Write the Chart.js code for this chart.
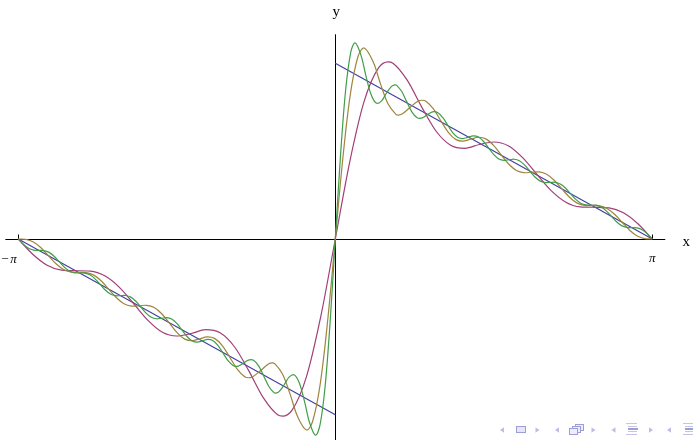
<!DOCTYPE html>
<html>
<head>
<meta charset="utf-8">
<script src="https://cdn.jsdelivr.net/npm/chart.js@4.4.1/dist/chart.umd.min.js"></script>
<style>
  html, body { margin: 0; padding: 0; background: #ffffff; }
  #wrap { position: relative; width: 693px; height: 440px; overflow: hidden; }
  canvas { display: block; }
</style>
</head>
<body>
<div id="wrap"><canvas id="chart" width="693" height="440"></canvas></div>
<script>
// ---- data ----
// exact function (sawtooth), blue
const sawX = [-3.1416, 0, 0, 0, 3.1416];
const sawY = [0, -1.5708, null, 1.5708, 0];

// partial sum, 5 terms (purple)
const purpleX = [-3.1416,-2.9988,-2.8560,-2.7132,-2.5704,-2.4276,-2.2848,-2.1420,-1.9992,-1.8564,-1.7136,-1.5708,-1.4280,-1.2852,-1.1424,-0.9996,-0.8568,-0.7140,-0.5712,-0.5236,-0.4284,-0.2856,-0.1428,
  0,
  0.1428,0.2856,0.4284,0.5236,0.5712,0.7140,0.8568,0.9996,1.1424,1.2852,1.4280,1.5708,1.7136,1.8564,1.9992,2.1420,2.2848,2.4276,2.5704,2.7132,2.8560,2.9988,3.1416];
const purpleY = [0,-0.1358,-0.2340,-0.2784,-0.2835,-0.2869,-0.3292,-0.4301,-0.5765,-0.7269,-0.8335,-0.8667,-0.8446,-0.8107,-0.8383,-0.9629,-1.1787,-1.4176,-1.5707,-1.5828,-1.5289,-1.2293,-0.6877,
  0,
  0.6877,1.2293,1.5289,1.5828,1.5707,1.4176,1.1787,0.9629,0.8383,0.8107,0.8446,0.8667,0.8335,0.7269,0.5765,0.4301,0.3292,0.2869,0.2835,0.2784,0.2340,0.1358,0];

// partial sum, 10 terms (olive)
const oliveX = [-3.1416,-3.0668,-2.9920,-2.9172,-2.8424,-2.7676,-2.6928,-2.6180,-2.5432,-2.4684,-2.3936,-2.3188,-2.2440,-2.1692,-2.0944,-2.0196,-1.9448,-1.8700,-1.7952,-1.7204,-1.6456,-1.5708,-1.4960,-1.4212,-1.3464,-1.2716,-1.1968,-1.1220,-1.0472,-0.9724,-0.8976,-0.8568,-0.8228,-0.7480,-0.6732,-0.6283,-0.5984,-0.5236,-0.4488,-0.3740,-0.2856,-0.2244,-0.1496,-0.0748,
  0,
  0.0748,0.1496,0.2244,0.2856,0.3740,0.4488,0.5236,0.5984,0.6283,0.6732,0.7480,0.8228,0.8568,0.8976,0.9724,1.0472,1.1220,1.1968,1.2716,1.3464,1.4212,1.4960,1.5708,1.6456,1.7204,1.7952,1.8700,1.9448,2.0196,2.0944,2.1692,2.2440,2.3188,2.3936,2.4684,2.5432,2.6180,2.6928,2.7676,2.8424,2.9172,2.9920,3.0668,3.1416];
const oliveY = [0,-0.0037,-0.0272,-0.0786,-0.1499,-0.2215,-0.2731,-0.2962,-0.2985,-0.3005,-0.3230,-0.3754,-0.4499,-0.5251,-0.5785,-0.5996,-0.5967,-0.5927,-0.6124,-0.6679,-0.7506,-0.8350,-0.8927,-0.9091,-0.8934,-0.8751,-0.8880,-0.9510,-1.0544,-1.1624,-1.2305,-1.2400,-1.2330,-1.1822,-1.1230,-1.1070,-1.1166,-1.2055,-1.3837,-1.5855,-1.7070,-1.6285,-1.2963,-0.7216,
  0,
  0.7216,1.2963,1.6285,1.7070,1.5855,1.3837,1.2055,1.1166,1.1070,1.1230,1.1822,1.2330,1.2400,1.2305,1.1624,1.0544,0.9510,0.8880,0.8751,0.8934,0.9091,0.8927,0.8350,0.7506,0.6679,0.6124,0.5927,0.5967,0.5996,0.5785,0.5251,0.4499,0.3754,0.3230,0.3005,0.2985,0.2962,0.2731,0.2215,0.1499,0.0786,0.0272,0.0037,0];

// partial sum, 15 terms (green)
const greenX = [-3.1416,-3.0909,-3.0402,-2.9896,-2.9389,-2.8882,-2.8376,-2.7869,-2.7362,-2.6855,-2.6349,-2.5842,-2.5335,-2.4829,-2.4322,-2.3815,-2.3309,-2.2802,-2.2295,-2.1788,-2.1282,-2.0775,-2.0268,-1.9762,-1.9255,-1.8748,-1.8241,-1.7735,-1.7228,-1.6721,-1.6215,-1.5708,-1.5201,-1.4695,-1.4188,-1.3681,-1.3174,-1.2668,-1.2161,-1.1654,-1.1148,-1.0641,-1.0134,-0.9627,-0.9121,-0.8614,-0.8107,-0.7601,-0.7094,-0.6587,-0.6080,-0.5890,-0.5574,-0.5067,-0.4560,-0.4054,-0.3547,-0.3040,-0.2534,-0.1963,-0.1520,-0.1013,-0.0507,
  0,
  0.0507,0.1013,0.1520,0.1963,0.2534,0.3040,0.3547,0.4054,0.4560,0.5067,0.5574,0.5890,0.6080,0.6587,0.7094,0.7601,0.8107,0.8614,0.9121,0.9627,1.0134,1.0641,1.1148,1.1654,1.2161,1.2668,1.3174,1.3681,1.4188,1.4695,1.5201,1.5708,1.6215,1.6721,1.7228,1.7735,1.8241,1.8748,1.9255,1.9762,2.0268,2.0775,2.1282,2.1788,2.2295,2.2802,2.3309,2.3815,2.4322,2.4829,2.5335,2.5842,2.6349,2.6855,2.7362,2.7869,2.8376,2.8882,2.9389,2.9896,3.0402,3.0909,3.1416];
const greenY = [0,-0.0482,-0.0829,-0.0988,-0.1012,-0.1036,-0.1194,-0.1543,-0.2029,-0.2516,-0.2866,-0.3022,-0.3037,-0.3050,-0.3203,-0.3558,-0.4058,-0.4561,-0.4919,-0.5067,-0.5061,-0.5051,-0.5194,-0.5560,-0.6089,-0.6623,-0.6995,-0.7127,-0.7083,-0.7032,-0.7156,-0.7542,-0.8122,-0.8712,-0.9109,-0.9215,-0.9100,-0.8973,-0.9063,-0.9486,-1.0164,-1.0860,-1.1305,-1.1358,-1.1102,-1.0819,-1.0837,-1.1340,-1.2237,-1.3176,-1.3734,-1.3775,-1.3645,-1.3027,-1.2325,-1.2144,-1.2909,-1.4563,-1.6454,-1.7528,-1.6642,-1.3203,-0.7336,
  0,
  0.7336,1.3203,1.6642,1.7528,1.6454,1.4563,1.2909,1.2144,1.2325,1.3027,1.3645,1.3775,1.3734,1.3176,1.2237,1.1340,1.0837,1.0819,1.1102,1.1358,1.1305,1.0860,1.0164,0.9486,0.9063,0.8973,0.9100,0.9215,0.9109,0.8712,0.8122,0.7542,0.7156,0.7032,0.7083,0.7127,0.6995,0.6623,0.6089,0.5560,0.5194,0.5051,0.5061,0.5067,0.4919,0.4561,0.4058,0.3558,0.3203,0.3050,0.3037,0.3022,0.2866,0.2516,0.2029,0.1543,0.1194,0.1036,0.1012,0.0988,0.0829,0.0482,0];

// axes, ticks, labels
const axisXRange = [-3.27, 3.27];
const axisYRange = [-1.90, 1.829];
const xTickValues = [-3.1416, 3.1416];
const xTickLabels = ['−', 'π'];
const axisLabels = ['x', 'y'];

// ---- chart ----
function pts(xs, ys) { return xs.map((x, i) => ({ x: x, y: ys[i] })); }

const COLORS = {
  blue: 'rgb(66,64,160)',
  purple: 'rgb(160,62,120)',
  olive: 'rgb(158,133,62)',
  green: 'rgb(62,158,72)'
};

function tri(ctx, cx, cy, dir) {
  ctx.beginPath();
  ctx.moveTo(cx - 2 * dir, cy);
  ctx.lineTo(cx + 2 * dir, cy - 2.8);
  ctx.lineTo(cx + 2 * dir, cy + 2.8);
  ctx.closePath();
  ctx.fill();
}

const decor = {
  id: 'decor',
  beforeDatasetsDraw(chart) {
    const ctx = chart.ctx, xs = chart.scales.x, ys = chart.scales.y;
    const y0 = Math.round(ys.getPixelForValue(0)) + 0.5;
    const x0 = Math.round(xs.getPixelForValue(0)) + 0.5;
    ctx.save();
    ctx.strokeStyle = '#000';
    ctx.lineWidth = 1;
    ctx.beginPath();
    ctx.moveTo(xs.getPixelForValue(axisXRange[0]), y0);
    ctx.lineTo(xs.getPixelForValue(axisXRange[1]), y0);
    ctx.moveTo(x0, ys.getPixelForValue(axisYRange[0]));
    ctx.lineTo(x0, ys.getPixelForValue(axisYRange[1]));
    xTickValues.forEach(v => {
      const px = Math.round(xs.getPixelForValue(v)) + 0.5;
      ctx.moveTo(px, y0);
      ctx.lineTo(px, y0 - 5);
    });
    ctx.stroke();
    ctx.restore();
  },
  afterDatasetsDraw(chart) {
    const ctx = chart.ctx, xs = chart.scales.x, ys = chart.scales.y;
    const y0 = ys.getPixelForValue(0);
    const x0 = xs.getPixelForValue(0);
    ctx.save();
    ctx.fillStyle = '#000';
    ctx.textBaseline = 'alphabetic';
    // tick labels
    const pL = xs.getPixelForValue(xTickValues[0]);
    const pR = xs.getPixelForValue(xTickValues[1]);
    ctx.font = '13px "Liberation Serif", "Times New Roman", serif';
    ctx.textAlign = 'left';
    ctx.fillText(xTickLabels[0], pL - 17, y0 + 24);
    ctx.font = 'italic 13px "Liberation Serif", "Times New Roman", serif';
    ctx.fillText(xTickLabels[1], pL - 8, y0 + 24);
    ctx.textAlign = 'center';
    ctx.fillText(xTickLabels[1], pR, y0 + 23);
    // axis labels
    ctx.font = '15px "Liberation Serif", "Times New Roman", serif';
    ctx.textAlign = 'center';
    ctx.fillText(axisLabels[0], xs.getPixelForValue(axisXRange[1]) + 21, y0 + 7);
    ctx.fillText(axisLabels[1], x0 + 1, 16);
    // beamer navigation symbols
    const cy = 430;
    ctx.fillStyle = '#bdbde6';
    [[502, 1], [537.5, -1], [557, 1], [593.5, -1], [613.5, 1], [651, -1], [669, 1]].forEach(t => tri(ctx, t[0], cy, t[1]));
    ctx.strokeStyle = '#9d9dda';
    ctx.lineWidth = 1;
    // slide icon
    ctx.fillStyle = '#e6e6f6';
    ctx.fillRect(516.5, 426.5, 9, 6);
    ctx.strokeRect(516.5, 426.5, 9, 6);
    // frame icon
    [[575.5, 424.5], [572.5, 426.5], [569.5, 428.5]].forEach(r => {
      ctx.fillStyle = '#eeeef9';
      ctx.fillRect(r[0], r[1], 8, 6);
      ctx.strokeRect(r[0], r[1], 8, 6);
    });
    // section / subsection icons
    function listIcon(x) {
      ctx.fillStyle = '#c4c4e8';
      ctx.fillRect(x, 423, 11, 1);
      ctx.fillRect(x + 2, 426, 9, 1);
      ctx.fillStyle = '#9c9cd8';
      ctx.fillRect(x + 2, 428, 10, 2);
      ctx.fillStyle = '#c4c4e8';
      ctx.fillRect(x + 2, 431, 9, 1);
      ctx.fillRect(x, 434, 11, 1);
    }
    listIcon(626);
    listIcon(683);
    ctx.restore();
  }
};

const common = { pointRadius: 0, pointHoverRadius: 0, borderWidth: 1.2, tension: 0.35, fill: false, spanGaps: false };

new Chart(document.getElementById('chart'), {
  type: 'line',
  data: {
    datasets: [
      Object.assign({ label: 'n = 15', data: pts(greenX, greenY), borderColor: COLORS.green, order: 0 }, common),
      Object.assign({ label: 'n = 10', data: pts(oliveX, oliveY), borderColor: COLORS.olive, order: 1 }, common),
      Object.assign({ label: 'n = 5', data: pts(purpleX, purpleY), borderColor: COLORS.purple, order: 2 }, common, { cubicInterpolationMode: 'monotone' }),
      Object.assign({ label: 'f', data: pts(sawX, sawY), borderColor: COLORS.blue, order: 3 }, common, { tension: 0 })
    ]
  },
  options: {
    responsive: false,
    devicePixelRatio: 1,
    animation: false,
    events: [],
    layout: { padding: 0 },
    plugins: { legend: { display: false }, tooltip: { enabled: false } },
    scales: {
      x: { type: 'linear', min: -3.3231, max: 3.5451, display: false },
      y: { type: 'linear', min: -1.7962, max: 2.1358, display: false }
    }
  },
  plugins: [decor]
});
</script>
</body>
</html>
